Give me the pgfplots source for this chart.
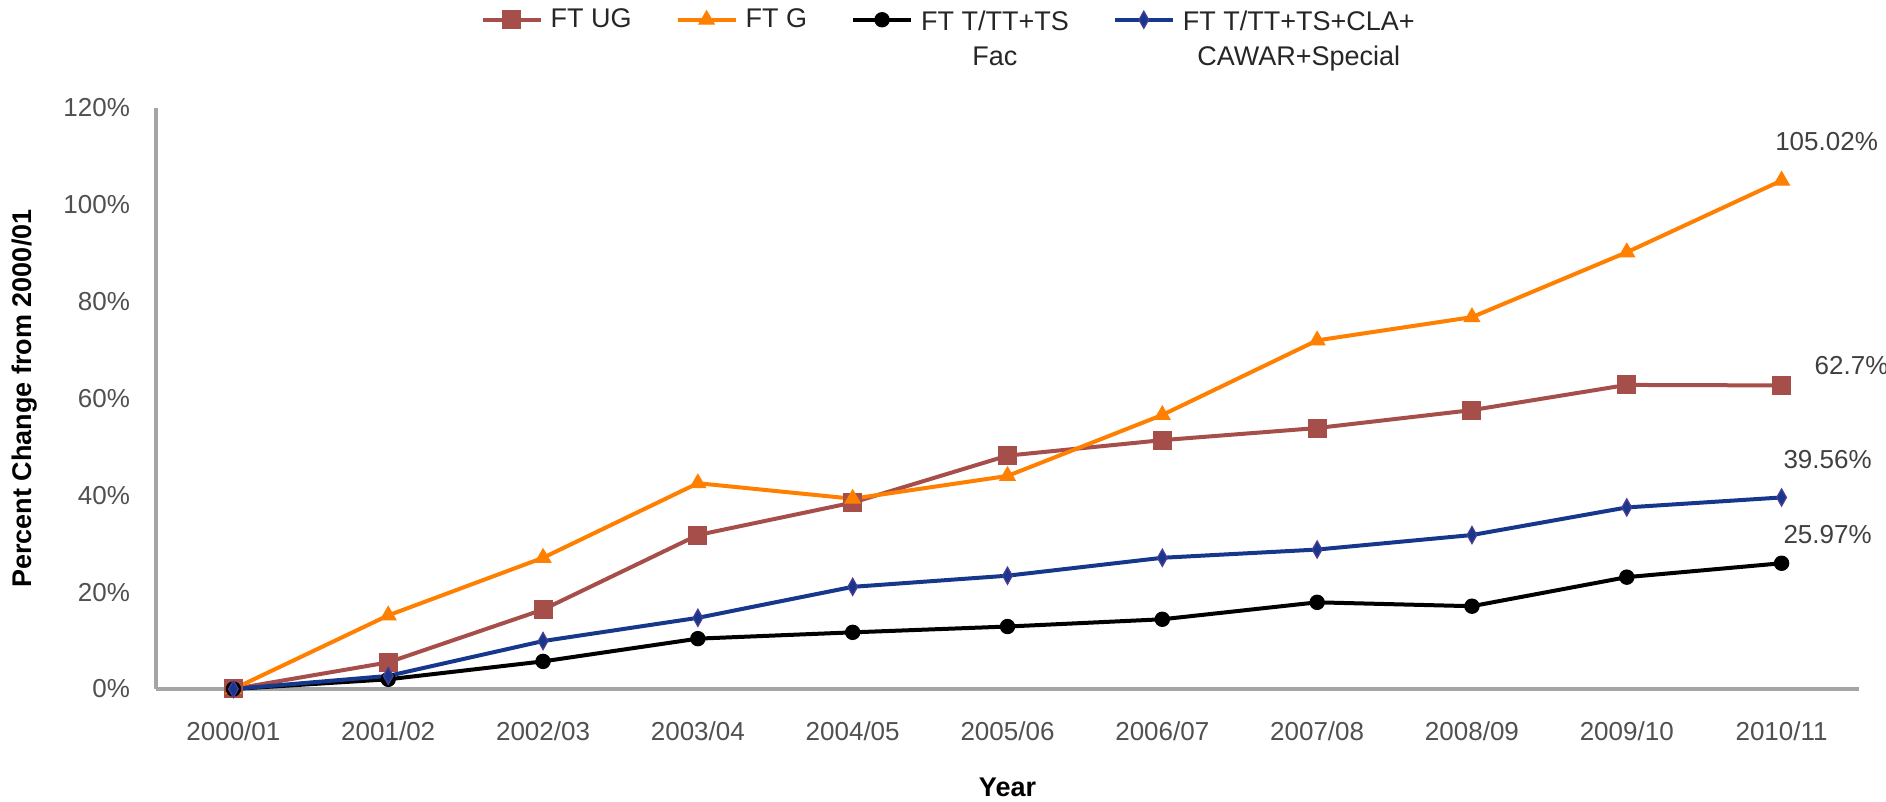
\documentclass[border=0pt]{standalone}
\usepackage{pgfplots}
\pgfplotsset{compat=1.18}
\usepackage{fontspec}
\setmainfont{Liberation Sans}
\definecolor{ugc}{RGB}{166,78,74}
\definecolor{gc}{RGB}{255,128,0}
\definecolor{bc}{RGB}{22,56,140}
\definecolor{bedge}{RGB}{80,60,150}
\definecolor{axgray}{RGB}{165,165,165}
\definecolor{tickgray}{RGB}{80,80,80}
\definecolor{lblgray}{RGB}{64,64,64}
\begin{document}
\begin{tikzpicture}
\begin{axis}[
  scale only axis, width=851.5pt, height=290.5pt,
  xmin=-0.5, xmax=10.5, ymin=0, ymax=120,
  axis x line*=bottom, axis y line*=left,
  axis line style={draw=axgray, line width=1.6pt},
  xtick={0,1,2,3,4,5,6,7,8,9,10},
  xticklabels={2000/01,2001/02,2002/03,2003/04,2004/05,2005/06,2006/07,2007/08,2008/09,2009/10,2010/11},
  ytick={0,20,40,60,80,100,120},
  yticklabel={\pgfmathprintnumber{\tick}\%},
  /pgf/number format/assume math mode=true,
  major tick length=0pt,
  tick label style={font=\fontsize{13}{15}\selectfont, text=tickgray},
  xticklabel style={yshift=-13pt},
  yticklabel style={xshift=-9.5pt},
  xlabel={\textbf{Year}},
  ylabel={\textbf{Percent Change from 2000/01}},
  label style={font=\fontsize{13.5}{15}\selectfont},
  xlabel style={at={(axis description cs:0.5,-0.17)}, anchor=center},
  ylabel style={at={(axis description cs:-0.077,0.5)}, anchor=center},
  legend columns=4,
  legend style={draw=none, fill=none, at={(rel axis cs:0.466,1.19)}, anchor=north,
    font=\fontsize{13.5}{17.5}\selectfont, text=black!85,
    /tikz/every odd column/.append style={column sep=2pt},
    /tikz/every even column/.append style={column sep=20pt},
    cells={anchor=west}},
  legend image code/.code={
    \draw[mark repeat=2,mark phase=2,#1] plot coordinates {(0pt,0pt) (14.5pt,0pt) (29pt,0pt)};
  },
  clip=false,
]
\addplot[color=ugc, line width=2pt, mark=square*, mark size=4.5pt, mark options={fill=ugc, draw=ugc, line width=0.5pt}]
coordinates {(0,0) (1,5.5) (2,16.4) (3,31.8) (4,38.5) (5,48.2) (6,51.4) (7,53.9) (8,57.6) (9,62.8) (10,62.7)};
\addlegendentry{FT UG}
\addplot[color=gc, line width=2pt, mark=triangle*, mark size=4.5pt, mark options={fill=gc, draw=gc, line width=0.5pt}]
coordinates {(0,0) (1,15.2) (2,27.1) (3,42.5) (4,39.3) (5,44.0) (6,56.6) (7,72.0) (8,76.8) (9,90.2) (10,105.02)};
\addlegendentry{FT G}
\addplot[color=black, line width=2pt, mark=*, mark size=3.6pt, mark options={fill=black, draw=black, line width=0.5pt}]
coordinates {(0,0) (1,2.0) (2,5.7) (3,10.4) (4,11.7) (5,12.9) (6,14.4) (7,17.9) (8,17.1) (9,23.1) (10,25.97)};
\addlegendentry{\begin{tabular}[t]{@{}c@{}}FT T/TT+TS\\Fac\end{tabular}}
\addplot[color=bc, line width=2pt, mark=diamond*, mark size=4.3pt, mark options={fill=bc, draw=bedge, line width=0.6pt, xscale=0.75}]
coordinates {(0,0) (1,2.7) (2,9.9) (3,14.7) (4,21.1) (5,23.4) (6,27.1) (7,28.8) (8,31.8) (9,37.5) (10,39.56)};
\addlegendentry{\begin{tabular}[t]{@{}c@{}}FT T/TT+TS+CLA+\\CAWAR+Special\end{tabular}}
\node[text=lblgray, font=\fontsize{13}{15}\selectfont] at (axis cs:10,105.02) [xshift=22.5pt, yshift=19.5pt] {105.02\%};
\node[text=lblgray, font=\fontsize{13}{15}\selectfont] at (axis cs:10,62.7) [xshift=35pt, yshift=10pt] {62.7\%};
\node[text=lblgray, font=\fontsize{13}{15}\selectfont] at (axis cs:10,39.56) [xshift=23pt, yshift=19pt] {39.56\%};
\node[text=lblgray, font=\fontsize{13}{15}\selectfont] at (axis cs:10,25.97) [xshift=23pt, yshift=14.5pt] {25.97\%};
\coordinate (sw) at (rel axis cs:0,0);
\coordinate (ne) at (rel axis cs:1,1);
\end{axis}
\pgfresetboundingbox
\path ([shift={(-78pt,-56.5pt)}]sw) rectangle ([shift={(13.5pt,54pt)}]ne);
\end{tikzpicture}
\end{document}
